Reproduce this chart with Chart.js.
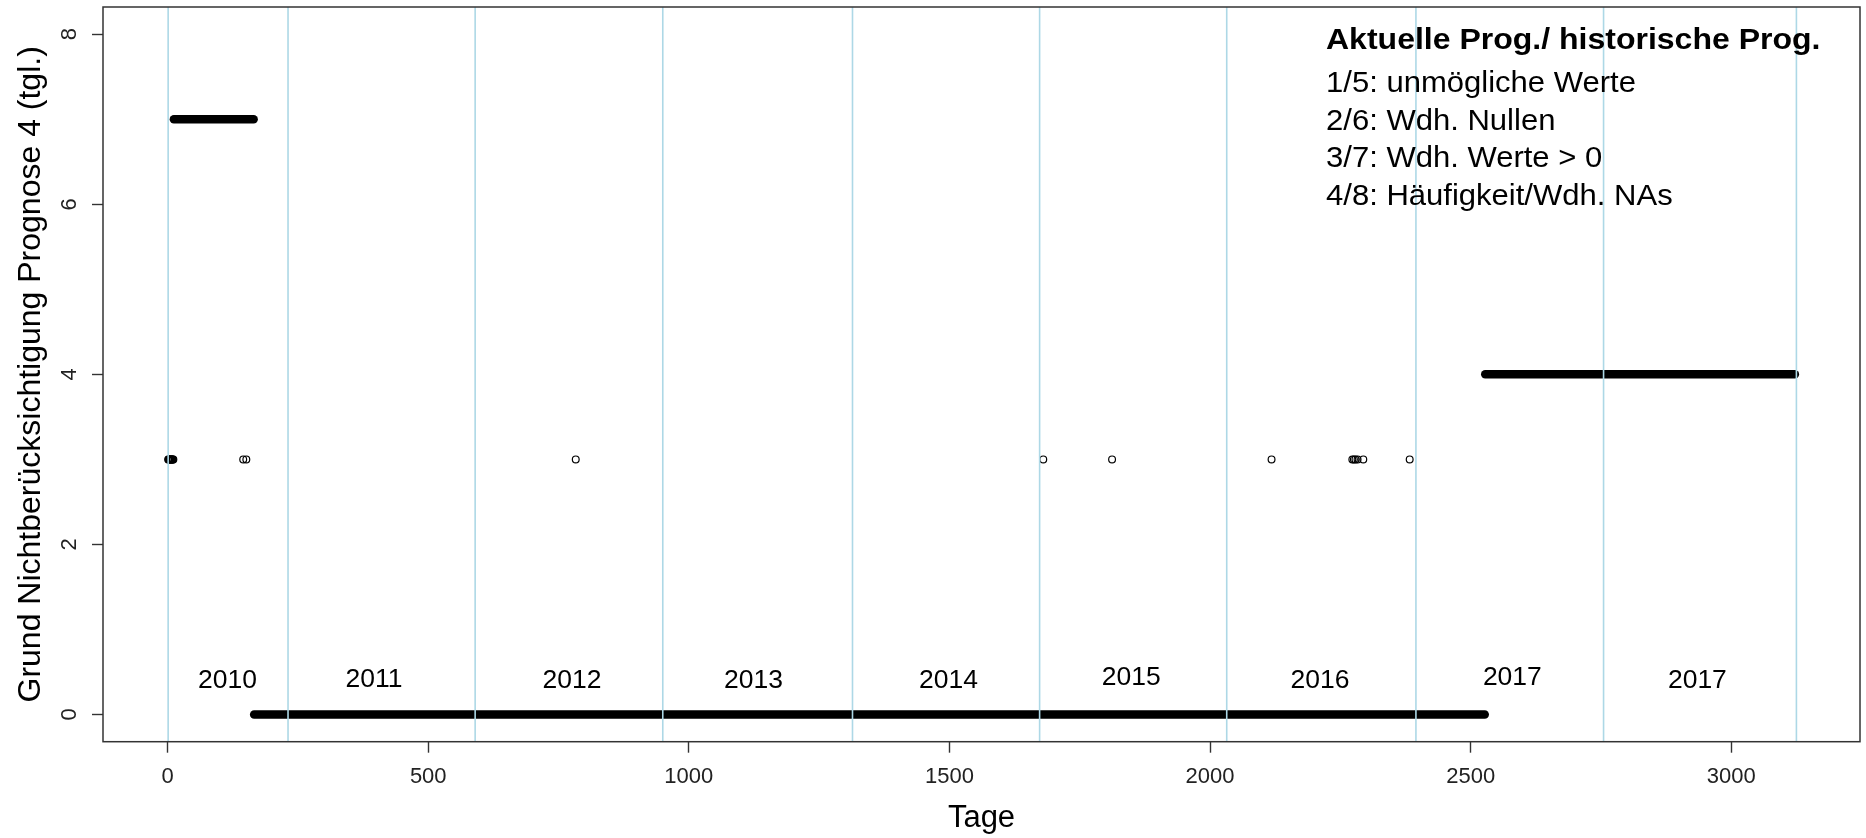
<!DOCTYPE html>
<html>
<head>
<meta charset="utf-8">
<script src="https://cdn.jsdelivr.net/npm/chart.js@4/dist/chart.umd.min.js"></script>
<style>
  html, body { margin: 0; padding: 0; background: #ffffff; overflow: hidden; }
  canvas { display: block; }
</style>
</head>
<body>
<canvas id="chart" width="1866" height="838"></canvas>
<script>
// Runs of days that share the same reason code: first day, last day, code
const runStartDay = [12, 166, 2528];
const runEndDay   = [165, 2527, 3122];
const runCode     = [7, 0, 4];

// Isolated days with their reason code
const singleDays  = [1, 2, 3, 4, 5, 6, 7, 8, 9, 10, 11, 145, 151, 783, 1680, 1812, 2118, 2273, 2276, 2279, 2283, 2294, 2383];
const singleCodes = [3, 3, 3, 3, 3, 3, 3, 3, 3, 3, 3, 3, 3, 3, 3, 3, 3, 3, 3, 3, 3, 3, 3];

// First day of each year block
const yearStartDay = [1, 231, 590, 950, 1314, 1673, 2032, 2395, 2755, 3125];

// Year captions inside the blocks
const yearLabels    = ['2010', '2011', '2012', '2013', '2014', '2015', '2016', '2017', '2017'];
const yearLabelDay  = [115, 396, 776, 1124, 1498, 1849, 2211, 2580, 2935];
const yearLabelCode = [0.39, 0.41, 0.39, 0.39, 0.39, 0.43, 0.39, 0.43, 0.39];

// Axis ticks
const xTicks = [0, 500, 1000, 1500, 2000, 2500, 3000];
const yTicks = [0, 2, 4, 6, 8];

// Key text
const keyTitle = 'Aktuelle Prog./ historische Prog.';
const keyLines = ['1/5: unmögliche Werte', '2/6: Wdh. Nullen', '3/7: Wdh. Werte > 0', '4/8: Häufigkeit/Wdh. NAs'];

const FONT = "'Liberation Sans', Arial, Helvetica, sans-serif";
const INK = '#000000';
const AXIS = '#333333';

function stretchedText(ctx, text, x, y, font, align, baseline, sx) {
  ctx.save();
  ctx.translate(x, y);
  ctx.scale(sx, 1);
  ctx.font = font;
  ctx.textAlign = align;
  ctx.textBaseline = baseline;
  ctx.fillStyle = INK;
  ctx.fillText(text, 0, 0);
  ctx.restore();
}

const overlay = {
  id: 'overlay',
  afterDatasetsDraw(chart) {
    const { ctx, chartArea: a, scales: { x, y } } = chart;
    ctx.save();

    // year separators (drawn over the points)
    ctx.beginPath();
    ctx.rect(a.left, a.top, a.right - a.left, a.bottom - a.top);
    ctx.clip();
    ctx.strokeStyle = '#ADD8E6';
    ctx.lineWidth = 1.6;
    yearStartDay.forEach(d => {
      const px = x.getPixelForValue(d);
      ctx.beginPath();
      ctx.moveTo(px, a.top);
      ctx.lineTo(px, a.bottom);
      ctx.stroke();
    });

    // year captions
    yearLabels.forEach((t, i) => {
      stretchedText(ctx, t, x.getPixelForValue(yearLabelDay[i]), y.getPixelForValue(yearLabelCode[i]),
        `25px ${FONT}`, 'center', 'middle', 1.06);
    });

    // key block, top right
    const kx = a.right - 534;
    stretchedText(ctx, keyTitle, kx, a.top + 42, `bold 29.5px ${FONT}`, 'left', 'alphabetic', 1.085);
    keyLines.forEach((t, i) => {
      stretchedText(ctx, t, kx, a.top + 84.7 + i * 37.8, `29px ${FONT}`, 'left', 'alphabetic', 1.07);
    });
    ctx.restore();

    // frame
    ctx.save();
    ctx.strokeStyle = AXIS;
    ctx.lineWidth = 1.5;
    ctx.strokeRect(a.left, a.top, a.right - a.left, a.bottom - a.top);

    // y tick labels, parallel to the axis
    ctx.fillStyle = '#222222';
    ctx.font = `22px ${FONT}`;
    ctx.textAlign = 'center';
    ctx.textBaseline = 'alphabetic';
    y.ticks.forEach(t => {
      const py = y.getPixelForValue(t.value);
      ctx.save();
      ctx.translate(a.left - 27, py);
      ctx.rotate(-Math.PI / 2);
      ctx.fillText(String(t.value), 0, 0);
      ctx.restore();
    });
    ctx.restore();
  }
};

const datasets = runStartDay.map((s, i) => ({
  type: 'line',
  data: [{ x: s, y: runCode[i] }, { x: runEndDay[i], y: runCode[i] }],
  showLine: true,
  borderColor: INK,
  borderWidth: 8.5,
  borderCapStyle: 'round',
  pointRadius: 0,
  fill: false,
  tension: 0
}));

datasets.push({
  type: 'scatter',
  data: singleDays.map((d, i) => ({ x: d, y: singleCodes[i] })),
  showLine: false,
  pointStyle: 'circle',
  pointRadius: 3.4,
  pointBorderWidth: 1.2,
  pointBorderColor: INK,
  pointBackgroundColor: 'rgba(0,0,0,0)'
});

new Chart(document.getElementById('chart'), {
  type: 'scatter',
  data: { datasets },
  options: {
    responsive: false,
    animation: false,
    devicePixelRatio: 1,
    layout: { padding: { top: 7, right: 6, bottom: 0, left: 0 } },
    plugins: {
      legend: { display: false },
      tooltip: { enabled: false }
    },
    scales: {
      x: {
        type: 'linear',
        position: 'bottom',
        min: -124,
        max: 3247,
        afterBuildTicks: s => { s.ticks = xTicks.map(v => ({ value: v })); },
        afterFit: s => { s.height = 96.3; },
        border: { display: false },
        grid: { display: true, drawOnChartArea: false, drawTicks: true, tickLength: 11, tickWidth: 1.4, tickColor: AXIS },
        ticks: {
          autoSkip: false,
          maxRotation: 0,
          padding: 11,
          color: '#222222',
          font: { family: FONT, size: 22 },
          callback: v => String(v)
        },
        title: {
          display: true,
          text: 'Tage',
          color: INK,
          font: { family: FONT, size: 31 },
          padding: { top: 0, bottom: 1 }
        }
      },
      y: {
        type: 'linear',
        position: 'left',
        min: -0.32,
        max: 8.32,
        afterBuildTicks: s => { s.ticks = yTicks.map(v => ({ value: v })); },
        afterFit: s => { s.width = 103; },
        border: { display: false },
        grid: { display: true, drawOnChartArea: false, drawTicks: true, tickLength: 11, tickWidth: 1.4, tickColor: AXIS },
        ticks: { display: false },
        title: {
          display: true,
          text: 'Grund Nichtberücksichtigung Prognose 4 (tgl.)',
          color: INK,
          font: { family: FONT, size: 32 },
          padding: { top: 12, bottom: 0 }
        }
      }
    }
  },
  plugins: [overlay]
});
</script>
</body>
</html>
